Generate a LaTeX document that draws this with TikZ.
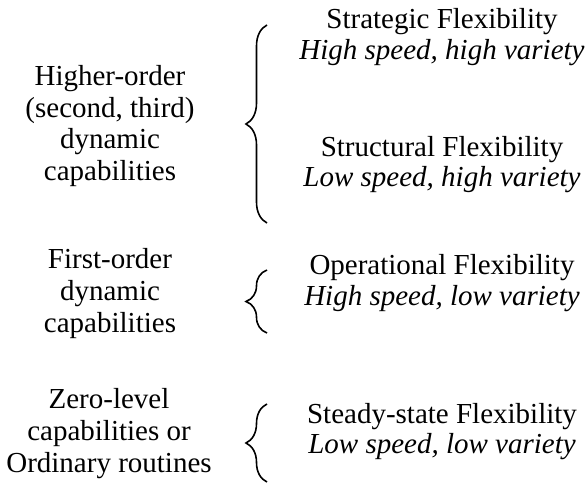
\documentclass[tikz,border=0pt]{standalone}
\usepackage{fontspec}
\setmainfont{Liberation Serif}
\usetikzlibrary{decorations.pathreplacing}
\begin{document}
\begin{tikzpicture}[x=1bp,y=-1bp,
  txt/.style={anchor=base,inner sep=0pt,font=\fontsize{29bp}{31.5bp}\selectfont},
  itx/.style={txt,font=\fontsize{29bp}{31.5bp}\selectfont\itshape},
  brc/.style={draw,line width=1.6bp,decorate,decoration={brace,amplitude=21bp}}]
\useasboundingbox (0,0) rectangle (588,485);
% left column
\node[txt] (hi1) at (110,86) {Higher-order};
\node[txt] (hi2) at (110,117.5) {(second, third)};
\node[txt] (hi3) at (110,149) {dynamic};
\node[txt] (hi4) at (110,180.5) {capabilities};
\node[txt] (fo1) at (110,268) {First-order};
\node[txt] (fo2) at (110,300) {dynamic};
\node[txt] (fo3) at (110,332) {capabilities};
\node[txt] (zl1) at (109,408) {Zero-level};
\node[txt] (zl2) at (109,440) {capabilities or};
\node[txt] (zl3) at (109,472) {Ordinary routines};
% right column
\node[txt] (sf1) at (442,29) {Strategic Flexibility};
\node[itx] (sf2) at (442,60) {High speed, high variety};
\node[txt] (st1) at (442,157) {Structural Flexibility};
\node[itx] (st2) at (442,187) {Low speed, high variety};
\node[txt] (of1) at (442,274) {Operational Flexibility};
\node[itx] (of2) at (442,305) {High speed, low variety};
\node[txt] (ss1) at (442,423) {Steady-state Flexibility};
\node[itx] (ss2) at (442,453) {Low speed, low variety};
% braces
\coordinate (b1t) at (267,25);  \coordinate (b1b) at (267,223);
\coordinate (b2t) at (267,270); \coordinate (b2b) at (267,333);
\coordinate (b3t) at (267,404); \coordinate (b3b) at (267,482);
\draw[brc] (b1b) -- (b1t);
\draw[brc] (b2b) -- (b2t);
\draw[brc] (b3b) -- (b3t);
\end{tikzpicture}
\end{document}
